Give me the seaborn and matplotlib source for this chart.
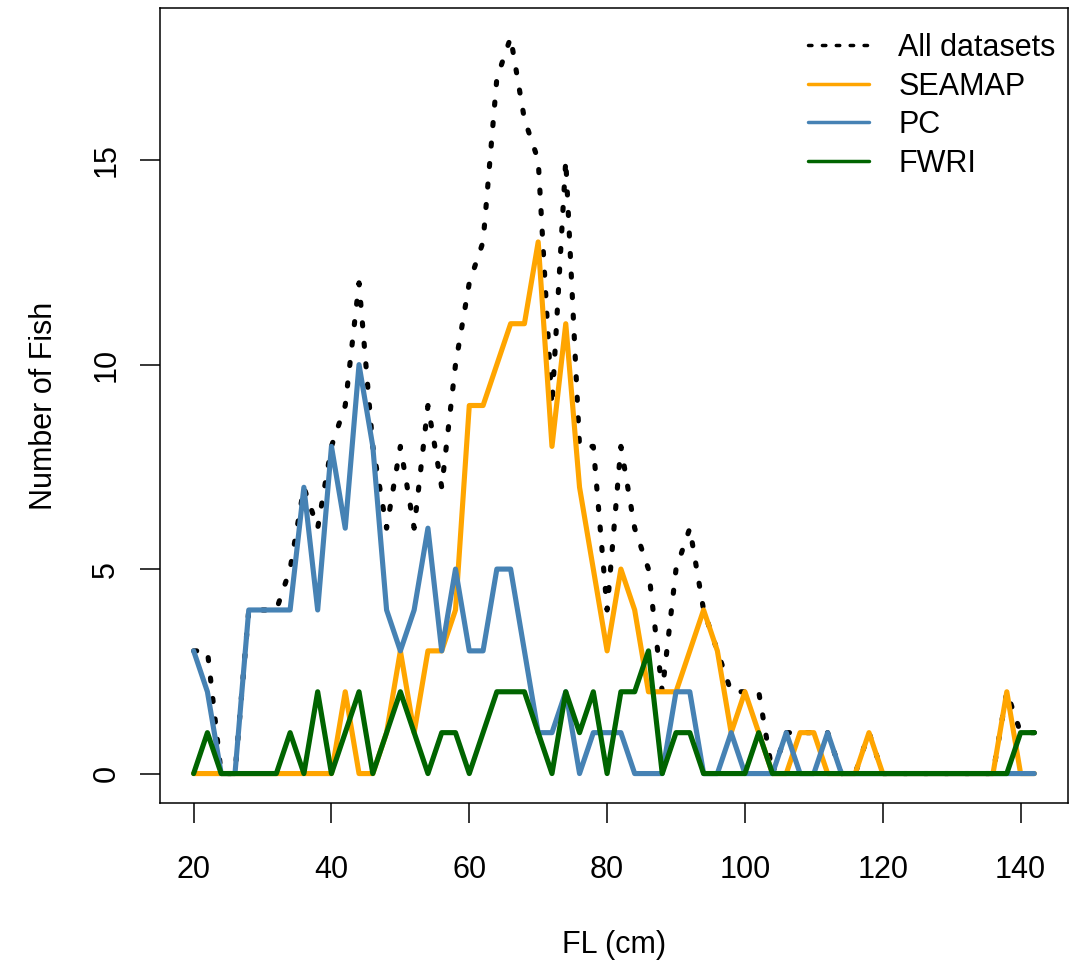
import numpy as np
import pandas as pd
import matplotlib
matplotlib.use("Agg")
import matplotlib.pyplot as plt
from matplotlib.lines import Line2D
import seaborn as sns

# fork length bins (cm)
fl = np.arange(20, 144, 2)

# fish counts per 2 cm bin
all_ds = [3, 3, 0, 0, 4, 4, 4, 5, 7, 6,
          8, 9, 12, 8, 6, 8, 6, 9, 7, 10,
          12, 13, 17, 18, 16, 15, 9, 15, 8, 8,
          4, 8, 6, 5, 2, 5, 6, 4, 3, 2,
          2, 2, 0, 1, 1, 1, 1, 0, 0, 1,
          0, 0, 0, 0, 0, 0, 0, 0, 0, 2,
          1, 1]
seamap = [0, 0, 0, 0, 0, 0, 0, 0, 0, 0,
          0, 2, 0, 0, 1, 3, 1, 3, 3, 4,
          9, 9, 10, 11, 11, 13, 8, 11, 7, 5,
          3, 5, 4, 2, 2, 2, 3, 4, 3, 1,
          2, 1, 0, 0, 1, 1, 0, 0, 0, 1,
          0, 0, 0, 0, 0, 0, 0, 0, 0, 2,
          0, 0]
pc = [3, 2, 0, 0, 4, 4, 4, 4, 7, 4,
      8, 6, 10, 8, 4, 3, 4, 6, 3, 5,
      3, 3, 5, 5, 3, 1, 1, 2, 0, 1,
      1, 1, 0, 0, 0, 2, 2, 0, 0, 1,
      0, 0, 0, 1, 0, 0, 1, 0, 0, 0,
      0, 0, 0, 0, 0, 0, 0, 0, 0, 0,
      0, 0]
fwri = [0, 1, 0, 0, 0, 0, 0, 1, 0, 2,
        0, 1, 2, 0, 1, 2, 1, 0, 1, 1,
        0, 1, 2, 2, 2, 1, 0, 2, 1, 2,
        0, 2, 2, 3, 0, 1, 1, 0, 0, 0,
        0, 1, 0, 0, 0, 0, 0, 0, 0, 0,
        0, 0, 0, 0, 0, 0, 0, 0, 0, 0,
        1, 1]

labels = ["All datasets", "SEAMAP", "PC", "FWRI"]
colors = ["black", "orange", "steelblue", "darkgreen"]

sns.set_style("ticks")
plt.rcParams['font.family'] = ['Liberation Sans', 'DejaVu Sans']
plt.rcParams['text.color'] = 'black'
plt.rcParams['axes.labelcolor'] = 'black'
plt.rcParams['xtick.color'] = 'black'
plt.rcParams['ytick.color'] = 'black'

W, H = 1069, 960
fig = plt.figure(figsize=(W / 100, H / 100), dpi=100)
ax = fig.add_axes([160 / W, 157 / H, (1068 - 160) / W, 795 / H])

lw = 3.7
sns.lineplot(x=fl, y=all_ds, ax=ax, color=colors[0], lw=lw,
             linestyle=(0, (0.6, 3.4)), dash_capstyle="round")
for vals, col in zip([seamap, pc, fwri], colors[1:]):
    sns.lineplot(x=fl, y=vals, ax=ax, color=col, lw=lw,
                 solid_joinstyle="round", solid_capstyle="round")

ax.set_xlim(15.12, 146.88)
ax.set_ylim(-0.72, 18.72)
ax.set_xticks([20, 40, 60, 80, 100, 120, 140])
ax.set_yticks([0, 5, 10, 15])

for s in ax.spines.values():
    s.set_visible(True)
    s.set_linewidth(1.1)
    s.set_color("black")

ax.tick_params(axis="both", direction="out", length=14.4, width=1.1,
               labelsize=22, color="black", labelcolor="black")
ax.tick_params(axis="x", pad=23)
ax.tick_params(axis="y", pad=13.5)
for t in ax.get_yticklabels():
    t.set_rotation(90)
    t.set_va("center")

ax.set_xlabel("FL (cm)", fontsize=22, color="black")
ax.set_ylabel("Number of Fish", fontsize=22, color="black")
ax.xaxis.set_label_coords(0.5, -0.160)
ax.yaxis.set_label_coords(-0.1110, 0.5)

handles = [Line2D([0], [0], color=colors[0], lw=2.5, linestyle=(0, (1.0, 3.0)),
                  dash_capstyle="round")]
handles += [Line2D([0], [0], color=c, lw=2.5) for c in colors[1:]]
leg = ax.legend(handles, labels, loc="upper left", frameon=False, fontsize=22,
                bbox_to_anchor=(808 / W, 1 - 33 / H), bbox_transform=fig.transFigure,
                borderpad=0, borderaxespad=0, handlelength=2.0,
                handletextpad=0.95, labelspacing=0.28)
for t in leg.get_texts():
    t.set_color("black")

fig.savefig("out.png", dpi=100)
